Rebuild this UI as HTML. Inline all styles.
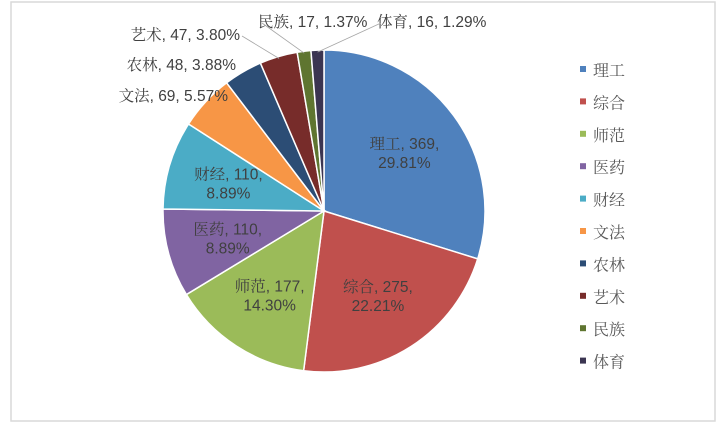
<!DOCTYPE html>
<html><head><meta charset="utf-8"><style>
body{margin:0;background:#fff;width:720px;height:433px;overflow:hidden}
svg text{font-family:"Liberation Sans","Noto Serif CJK SC",sans-serif;font-size:15.5px;fill:#404040}
</style></head><body>
<svg id="chart" width="720" height="433" xmlns="http://www.w3.org/2000/svg">
<rect x="11" y="2" width="704" height="419" fill="#fff" stroke="#d9d9d9" stroke-width="1.5"/>
<g id="slices"></g><g id="labels"></g><g id="legend"></g>
</svg>
<script>
const categories=["理工","综合","师范","医药","财经","文法","农林","艺术","民族","体育"];
const values=[369,275,177,110,110,69,48,47,17,16];
const percents=["29.81%","22.21%","14.30%","8.89%","8.89%","5.57%","3.88%","3.80%","1.37%","1.29%"];
const colors=["#4f81bd","#c0504d","#9bbb59","#8064a2","#4bacc6","#f79646","#2c4d75","#772c2a","#5f7530","#3b3551"];
const NS="http://www.w3.org/2000/svg";
const cx=324,cy=211,r=161;
const total=values.reduce((a,b)=>a+b,0);
function pt(a,rr){return [cx+rr*Math.sin(a),cy-rr*Math.cos(a)];}
const sg=document.getElementById('slices'),lg=document.getElementById('labels'),leg=document.getElementById('legend');
const outside={5:[228,101,'end'],6:[236,70,'end'],7:[240,40,'end'],8:[258,27,'start'],9:[377,27,'start']};
let a0=0;
values.forEach((v,i)=>{
  const a1=a0+v/total*2*Math.PI;
  const [x0,y0]=pt(a0,r),[x1,y1]=pt(a1,r);
  const p=document.createElementNS(NS,'path');
  p.setAttribute('d',`M${cx},${cy}L${x0},${y0}A${r},${r} 0 ${a1-a0>Math.PI?1:0} 1 ${x1},${y1}Z`);
  p.setAttribute('fill',colors[i]);p.setAttribute('stroke','#fff');p.setAttribute('stroke-width','1.5');
  
  
  sg.appendChild(p);
  const mid=(a0+a1)/2;
  if(outside[i]){
    const [lx,ly,anc]=outside[i];
    const t=document.createElementNS(NS,'text');
    t.setAttribute('x',lx);t.setAttribute('y',ly);t.setAttribute('text-anchor',anc);
    t.textContent=`${categories[i]}, ${values[i]}, ${percents[i]}`;
    
    
    lg.appendChild(t);
    const [ex,ey]=pt(mid,r-2);
    const ln=document.createElementNS(NS,'line');
    ln.setAttribute('x1',ex);ln.setAttribute('y1',ey);
    ln.setAttribute('x2',anc==='end'?lx+2:lx+4);ln.setAttribute('y2',ly-4);
    ln.setAttribute('stroke','#a6a6a6');ln.setAttribute('stroke-width','0.8');
    
    
    if(i>=7) lg.appendChild(ln);
  } else {
    const [lx,ly]=pt(mid,r*0.62);
    const t=document.createElementNS(NS,'text');
    t.setAttribute('text-anchor','middle');
    
    
    const s1=document.createElementNS(NS,'tspan');s1.setAttribute('x',lx);s1.setAttribute('y',ly-3);s1.textContent=`${categories[i]}, ${values[i]},`;
    const s2=document.createElementNS(NS,'tspan');s2.setAttribute('x',lx);s2.setAttribute('y',ly+16);s2.textContent=percents[i];
    t.appendChild(s1);t.appendChild(s2);lg.appendChild(t);
  }
  a0=a1;
});
categories.forEach((c,i)=>{
  const y=70+i*32.4;
  const g=document.createElementNS(NS,'g');
  
  
  const sq=document.createElementNS(NS,'rect');
  sq.setAttribute('x',580);sq.setAttribute('y',y-4);sq.setAttribute('width',6);sq.setAttribute('height',6);sq.setAttribute('fill',colors[i]);
  const t=document.createElementNS(NS,'text');
  t.setAttribute('x',593);t.setAttribute('y',y+6);t.setAttribute('style','font-size:16px;fill:#595959');t.textContent=c;
  g.appendChild(sq);g.appendChild(t);leg.appendChild(g);
});
</script>
</body></html>
